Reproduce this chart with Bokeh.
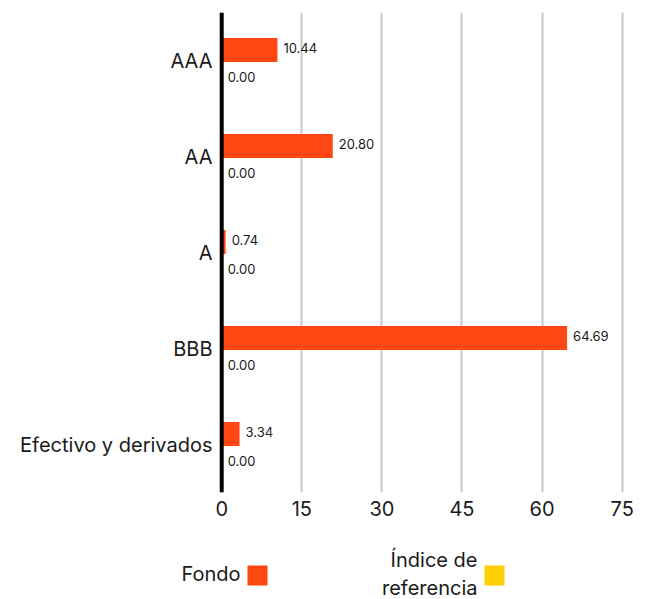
from bokeh.plotting import figure
from bokeh.models import ColumnDataSource, FactorRange, Range1d, FixedTicker, Span
from bokeh.transform import dodge
from bokeh.layouts import column
from bokeh.core.properties import value
from bokeh.embed import file_html
from bokeh.resources import INLINE

categories = ["AAA", "AA", "A", "BBB", "Efectivo y derivados"]
fondo = [10.44, 20.80, 0.74, 64.69, 3.34]
indice = [0.00, 0.00, 0.00, 0.00, 0.00]
x_ticks = [0, 15, 30, 45, 60, 75]
legend_names = ["Fondo", "Índice de\nreferencia"]

FONT = "Inter"
ORANGE = "#FF4713"
YELLOW = "#FFCE00"
TEXT = "#1a1a1a"

W = 640
BL, BR = 218, 13
MAIN_H, LEG_H = 540, 59

src = ColumnDataSource(dict(
    cat=categories,
    fondo=fondo,
    indice=indice,
    fondo_lbl=[f"{v:.2f}" for v in fondo],
    indice_lbl=[f"{v:.2f}" for v in indice],
))

p = figure(
    width=W, height=MAIN_H,
    y_range=FactorRange(*reversed(categories)),
    x_range=Range1d(-0.6, 76),
    output_backend="svg", toolbar_location=None,
    min_border_left=BL, min_border_right=BR, min_border_top=12, min_border_bottom=48,
)
p.outline_line_color = None
p.background_fill_color = "white"
p.border_fill_color = "white"

p.hbar(y=dodge("cat", 0.11, range=p.y_range), left=0, right="fondo", height=0.25,
       source=src, color=ORANGE, line_color=None)
p.hbar(y=dodge("cat", -0.14, range=p.y_range), left=0, right="indice", height=0.25,
       source=src, color=YELLOW, line_color=None)

p.text(x="fondo", y=dodge("cat", 0.13, range=p.y_range), text="fondo_lbl", source=src,
       x_offset=6, text_baseline="middle", text_align="left",
       text_font=value(FONT), text_font_size="13px", text_color=TEXT)
p.text(x="indice", y=dodge("cat", -0.17, range=p.y_range), text="indice_lbl", source=src,
       x_offset=6, text_baseline="middle", text_align="left",
       text_font=value(FONT), text_font_size="13px", text_color=TEXT)

p.add_layout(Span(location=0, dimension="height", line_color="black", line_width=4))

p.xaxis.ticker = FixedTicker(ticks=x_ticks)
p.xgrid.ticker = FixedTicker(ticks=x_ticks)
p.xgrid.grid_line_color = "#c8c8c8"
p.xgrid.grid_line_width = 2
p.ygrid.grid_line_color = None

for ax in (p.xaxis, p.yaxis):
    ax.axis_line_color = None
    ax.major_tick_line_color = None
    ax.minor_tick_line_color = None
    ax.major_label_text_font = FONT
    ax.major_label_text_font_size = "20px"
    ax.major_label_text_color = TEXT
p.xaxis.major_label_standoff = 2
p.yaxis.major_label_standoff = 0

# legend strip: its ranges are page pixels (label left of the colour square)
lg = figure(width=W, height=LEG_H,
            x_range=Range1d(0, W), y_range=Range1d(MAIN_H + LEG_H, MAIN_H),
            output_backend="svg", toolbar_location=None,
            min_border_left=0, min_border_right=0, min_border_top=0, min_border_bottom=0)
for q in (p, lg):
    if "frame_align" in q.properties():
        q.frame_align = False
lg.axis.visible = False
lg.grid.visible = False
lg.outline_line_color = None
lg.background_fill_color = "white"
lg.border_fill_color = "white"

square_cx = [257, 494]
lg_src = ColumnDataSource(dict(
    name=legend_names,
    color=[ORANGE, YELLOW],
    sx=square_cx,
    tx=[c - 17 for c in square_cx],
))
lg.rect(x="sx", y=575, width=20, height=20, width_units="screen", height_units="screen",
        color="color", line_color=None, source=lg_src)
lg.text(x="tx", y=573.5, text="name", source=lg_src, text_align="right", text_baseline="middle",
        text_font=value(FONT), text_font_size="20px", text_color=TEXT, text_line_height=1.2)

layout = column(p, lg, spacing=0)
open("out.html", "w").write(file_html(layout, INLINE))
